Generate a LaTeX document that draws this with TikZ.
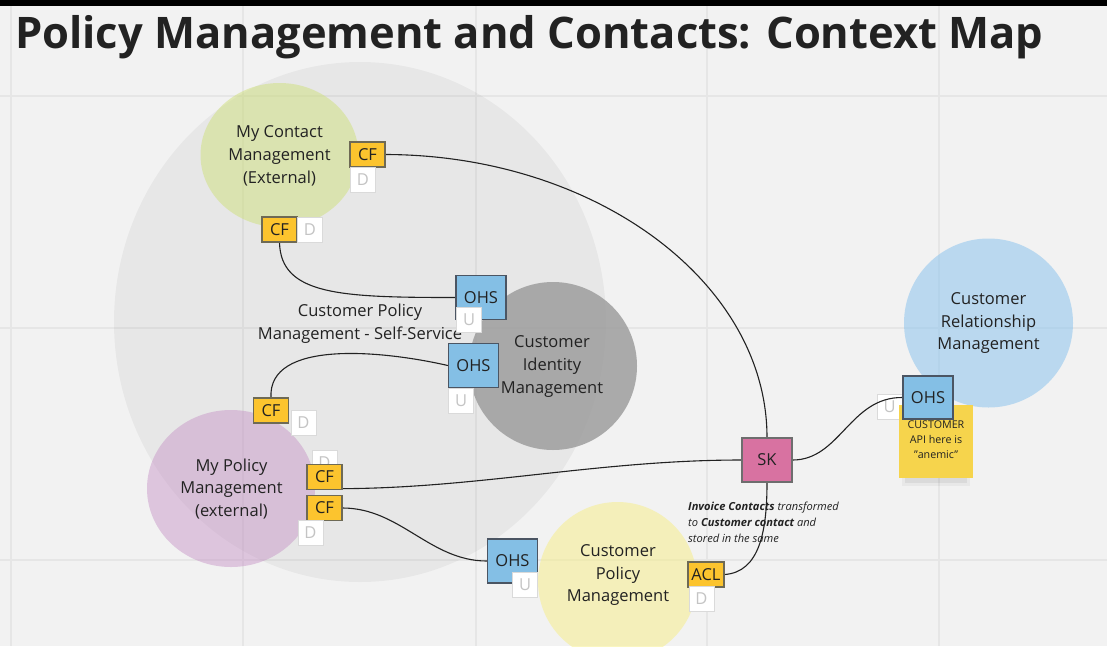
\documentclass[tikz,border=0pt]{standalone}
\usepackage{fontspec}
\setmainfont{Open Sans}
\definecolor{bgc}{HTML}{F2F2F2}
\definecolor{gridc}{HTML}{E6E6E6}
\definecolor{txt}{HTML}{222222}
\definecolor{cfy}{HTML}{FCC42E}
\definecolor{cfd}{HTML}{6E6A55}
\definecolor{ohsb}{HTML}{84BFE5}
\definecolor{ohsd}{HTML}{4B5563}
\definecolor{skp}{HTML}{D872A1}
\definecolor{skd}{HTML}{6E6E6E}
\definecolor{udb}{HTML}{DADADA}
\definecolor{udt}{HTML}{C4C4C4}
\definecolor{purp}{HTML}{C48FC4}
\definecolor{grn}{HTML}{CFE07A}
\definecolor{cimg}{HTML}{999999}
\definecolor{ylw}{HTML}{F6EE8C}
\definecolor{crmb}{HTML}{8CC4EE}
\definecolor{sticky}{HTML}{F6D44C}
\pgfdeclarelayer{back}
\pgfdeclarelayer{conn}
\pgfsetlayers{back,conn,main}
\newcommand{\circfnt}{\fontsize{16.5}{22.7}\selectfont}
\newcommand{\boxfnt}{\fontsize{16.5}{20}\selectfont}
\tikzset{
  ctxlabel/.style={align=center, font=\circfnt, text=txt, inner sep=0pt},
  boxbase/.style={draw, line width=1.3pt, inner sep=0pt, font=\boxfnt, text=txt},
  cfbox/.style={boxbase, fill=cfy, draw=cfd, minimum width=35pt, minimum height=25pt},
  ohsbox/.style={boxbase, fill=ohsb, draw=ohsd, minimum width=50pt, minimum height=44pt},
  skbox/.style={boxbase, fill=skp, draw=skd, minimum width=50pt, minimum height=44pt},
  udbox/.style={draw=udb, fill=white, line width=1pt, minimum width=25pt, minimum height=25pt, inner sep=0pt, text=udt, font=\boxfnt},
  conn/.style={draw=txt, line width=1.1pt},
  gridline/.style={draw=gridc, line width=1.3pt}
}
\begin{document}
\begin{tikzpicture}[x=1pt,y=-1pt]
\useasboundingbox (0,0) rectangle (1107,646);
\begin{pgfonlayer}{back}
  \fill[bgc] (0,0) rectangle (1107,646);
  \foreach \gx in {11,243,476,707,939} \draw[gridline] (\gx,6) -- (\gx,646);
  \foreach \gy in {96,328,560} \draw[gridline] (0,\gy) -- (1107,\gy);
  \fill[black, fill opacity=0.045] (360,322) ellipse [x radius=246pt, y radius=260pt];
  \fill[grn, fill opacity=0.5] (279.5,155) ellipse [x radius=79pt, y radius=72pt];
  \fill[purp, fill opacity=0.45] (231,488.5) ellipse [x radius=84pt, y radius=78.5pt];
  \fill[cimg, fill opacity=0.8] (553,366) circle [radius=84pt];
  \fill[ylw, fill opacity=0.55] (617.5,581.5) circle [radius=79.5pt];
  \fill[crmb, fill opacity=0.55] (988.5,323) circle [radius=84.5pt];
  \fill[black] (0,0) rectangle (1107,6);
\end{pgfonlayer}

% title
\node[anchor=base west, font=\fontsize{43.5}{48}\selectfont\bfseries, text=txt, inner sep=0pt] (title) at (15,48) {Policy Management and Contacts: Context Map};

% context labels
\node[ctxlabel] (mcm) at (279.5,156) {My Contact\\Management\\(External)};
\node[ctxlabel] (cpss) at (360,323.5) {Customer Policy\\Management - Self-Service};
\node[ctxlabel] (cim) at (552,366.5) {Customer\\Identity\\Management};
\node[ctxlabel] (mpm) at (231.5,489) {My Policy\\Management\\(external)};
\node[ctxlabel] (cpm) at (618,575) {Customer\\Policy\\Management};
\node[ctxlabel] (crm) at (988.5,323) {Customer\\Relationship\\Management};

% annotation
\node[anchor=north west, align=left, font=\fontsize{11.1}{16}\selectfont\itshape, text=txt, inner sep=0pt] (note) at (688,502) {\textbf{Invoice Contacts} transformed\\to \textbf{Customer contact} and\\stored in the same};

% boxes
\node[cfbox] (CFa) at (367.5,154.5) {CF};
\node[udbox] (Da) at (363,179.5) {D};
\node[cfbox] (CFb) at (279.5,229.5) {CF};
\node[udbox] (Db) at (310,229.5) {D};
\node[ohsbox] (OHSa) at (481,297.5) {OHS};
\node[udbox] (Ua) at (469,319.5) {U};
\node[ohsbox] (OHSb) at (473.5,365.5) {OHS};
\node[udbox] (Ub) at (461,400.5) {U};
\node[cfbox] (CFc) at (271,410.5) {CF};
\node[udbox] (Dc) at (303.5,422.5) {D};
\node[udbox] (Dd) at (324.5,462.5) {D};
\node[cfbox] (CFd) at (324.5,477) {CF};
\node[cfbox] (CFe) at (324.5,508) {CF};
\node[udbox] (De) at (310.5,533) {D};
\node[ohsbox] (OHSc) at (512.5,561) {OHS};
\node[udbox] (Uc) at (525,585) {U};
\node[cfbox, minimum width=36pt] (ACL) at (706,574.5) {ACL};
\node[udbox] (Df) at (701.5,599) {D};
\node[skbox] (SK) at (767,460) {SK};

% sticky note with shadow
\fill[black, fill opacity=0.04] (902,468) rectangle (970,486);
\fill[black, fill opacity=0.06] (905,472) rectangle (967,483);
\fill[sticky] (899,405) rectangle (973,478);
\node[align=center, font=\fontsize{10.7}{15}\selectfont, text=txt, inner sep=0pt] (stk) at (936,440) {CUSTOMER\\API here is\\"anemic"};
\node[ohsbox, minimum height=43pt] (OHSd) at (928,397.5) {OHS};

% connectors
\begin{pgfonlayer}{conn}
  \node[udbox] (Ud) at (889.5,407) {U};
  \draw[conn] (CFa.east) .. controls (595,155) and (767,282) .. (SK.north);
  \draw[conn] (CFb.south) .. controls (281,295) and (340,297.5) .. (OHSa.west);
  \draw[conn] (CFc.north) .. controls (268,340) and (380,350) .. (OHSb.west);
  \draw[conn] ([yshift=1.5pt]CFd.south east) .. controls (480,488) and (600,460) .. (SK.west);
  \draw[conn] (CFe.east) .. controls (400,508) and (430,561) .. (OHSc.west);
  \draw[conn] (ACL.east) .. controls (760,572) and (767,530) .. (SK.south);
  \draw[conn] (SK.east) .. controls (840,460) and (850,397) .. (OHSd.west);
\end{pgfonlayer}
\end{tikzpicture}
\end{document}
